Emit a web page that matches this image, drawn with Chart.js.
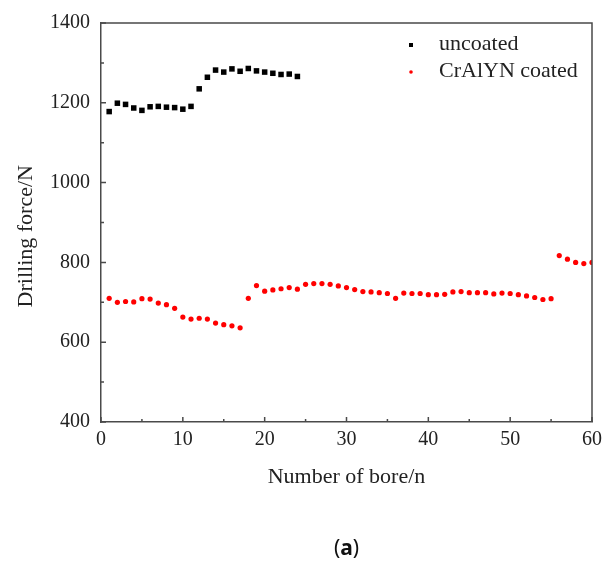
<!DOCTYPE html>
<html>
<head>
<meta charset="utf-8">
<script src="https://cdn.jsdelivr.net/npm/chart.js@4/dist/chart.umd.min.js"></script>
<style>
  body { margin: 0; background: #fff; }
  #wrap { width: 608px; height: 573px; position: relative; }
</style>
</head>
<body>
<div id="wrap"><canvas id="chart"></canvas></div>
<script>
// data
const uncoatedBores = [1,2,3,4,5,6,7,8,9,10,11,12,13,14,15,16,17,18,19,20,21,22,23,24]
const uncoatedForce = [1178,1199,1196,1187,1181,1190,1191,1189,1188,1184,1191,1235,1264,1282,1277,1285,1279,1286,1280,1277,1274,1271,1272,1266]
const coatedBores = []
for (let i = 1; i <= 60; i++) coatedBores.push(i)
const coatedForce = [710,700,702,701,709,708,698,694,685,663,
  658,660,658,648,644,641,636,710,742,728,
  731,734,737,733,745,747,747,745,741,737,
  732,727,726,724,722,710,723,722,722,719,
  719,720,726,727,724,724,724,721,723,722,
  719,716,712,707,709,817,808,800,797,800]
const seriesNames = ['uncoated', 'CrAlYN coated']
const xTicks = [0, 10, 20, 30, 40, 50, 60]
const yTicks = [400, 600, 800, 1000, 1200, 1400]

const serif = 'Liberation Serif, Times New Roman, serif'
const axisColor = '#4a4a4a'

function toPoints(xs, ys) {
  return xs.map((x, i) => ({ x: x, y: ys[i] }))
}

// frame, inward ticks, legend and panel label
const extras = {
  id: 'extras',
  afterDraw(chart) {
    const ctx = chart.ctx
    const a = chart.chartArea
    const xs = chart.scales.x
    const ys = chart.scales.y
    ctx.save()
    ctx.strokeStyle = axisColor
    ctx.lineWidth = 1.5
    // top and right border
    ctx.beginPath()
    ctx.moveTo(a.left, a.top)
    ctx.lineTo(a.right, a.top)
    ctx.lineTo(a.right, a.bottom)
    ctx.stroke()
    // ticks pointing inward
    ctx.beginPath()
    for (let v = 0; v <= 60; v += 5) {
      const px = xs.getPixelForValue(v)
      const len = v % 10 === 0 ? 5 : 3
      ctx.moveTo(px, a.bottom)
      ctx.lineTo(px, a.bottom - len)
    }
    for (let v = 400; v <= 1400; v += 100) {
      const py = ys.getPixelForValue(v)
      const len = v % 200 === 0 ? 5 : 3
      ctx.moveTo(a.left, py)
      ctx.lineTo(a.left + len, py)
    }
    ctx.stroke()

    // legend in the top right of the plot
    const lx = a.left + 310
    const rows = [a.top + 22, a.top + 49]
    chart.data.datasets.forEach((ds, i) => {
      const y = rows[i]
      ctx.fillStyle = ds.backgroundColor
      if (ds.pointStyle === 'rect') {
        ctx.fillRect(lx - 2, y - 2, 4, 4)
      } else {
        ctx.beginPath()
        ctx.arc(lx, y, 1.8, 0, Math.PI * 2)
        ctx.fill()
      }
      ctx.fillStyle = '#222'
      ctx.font = '22px ' + serif
      ctx.textBaseline = 'middle'
      ctx.textAlign = 'left'
      ctx.fillText(ds.label, lx + 28, y - 1)
    })

    // panel label (a)
    const cx = (a.left + a.right) / 2
    const cy = 549
    ctx.font = 'bold 21px "Noto Sans", sans-serif'
    const wa = ctx.measureText('a').width
    ctx.font = '21px "Noto Sans", sans-serif'
    const wp = ctx.measureText('(').width
    const total = wp * 2 + wa
    let x0 = cx - total / 2
    ctx.fillStyle = '#111'
    ctx.textAlign = 'left'
    ctx.fillText('(', x0, cy)
    ctx.font = 'bold 21px "Noto Sans", sans-serif'
    ctx.fillText('a', x0 + wp, cy)
    ctx.font = '21px "Noto Sans", sans-serif'
    ctx.fillText(')', x0 + wp + wa, cy)
    ctx.restore()
  }
}

const chart = new Chart(document.getElementById('chart'), {
  type: 'scatter',
  data: {
    datasets: [{
      label: seriesNames[0],
      data: toPoints(uncoatedBores, uncoatedForce),
      pointStyle: 'rect',
      pointRadius: 3.9,
      backgroundColor: '#000000',
      borderColor: '#000000',
      borderWidth: 0
    }, {
      label: seriesNames[1],
      data: toPoints(coatedBores, coatedForce),
      pointStyle: 'circle',
      pointRadius: 2.6,
      backgroundColor: '#ff0000',
      borderColor: '#ff0000',
      borderWidth: 0
    }]
  },
  options: {
    responsive: true,
    maintainAspectRatio: false,
    animation: false,
    layout: { padding: { left: 0, right: 15, top: 22, bottom: 0 } },
    plugins: {
      legend: { display: false },
      tooltip: { enabled: false }
    },
    scales: {
      x: {
        type: 'linear',
        min: 0,
        max: 60,
        afterFit: s => { s.height = 151 },
        afterBuildTicks: s => { s.ticks = xTicks.map(v => ({ value: v })) },
        grid: { display: false, drawTicks: false },
        border: { display: true, color: axisColor, width: 1.5 },
        ticks: {
          padding: 6, color: '#222', font: { family: serif, size: 20 }, maxRotation: 0,
          callback: v => String(v)
        },
        title: {
          display: true,
          text: 'Number of bore/n',
          color: '#222',
          font: { family: serif, size: 22 },
          padding: { top: 0, bottom: 83 }
        }
      },
      y: {
        min: 400,
        max: 1400,
        afterFit: s => { s.width = 101 },
        afterBuildTicks: s => { s.ticks = yTicks.map(v => ({ value: v })) },
        grid: { display: false, drawTicks: false },
        border: { display: true, color: axisColor, width: 1.5 },
        ticks: {
          padding: 11, color: '#222', font: { family: serif, size: 20 },
          callback: v => String(v)
        },
        title: {
          display: true,
          text: 'Drilling force/N     ',
          color: '#222',
          font: { family: serif, size: 22 },
          padding: { top: 13, bottom: 0 }
        }
      }
    }
  },
  plugins: [extras]
})
</script>
</body>
</html>
